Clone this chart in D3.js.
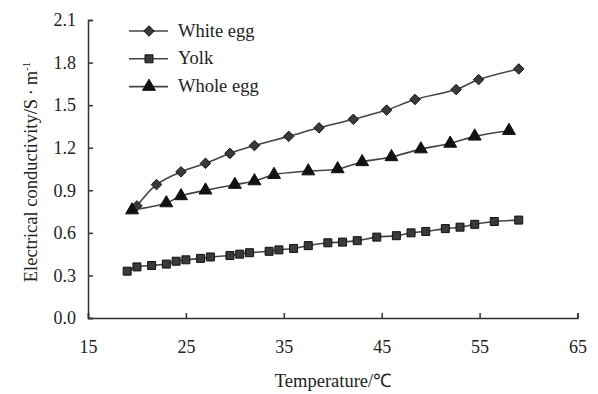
<!DOCTYPE html>
<html>
<head>
<meta charset="utf-8">
<script src="https://cdn.jsdelivr.net/npm/d3@7"></script>
<style>
  body { margin: 0; background: #fff; }
</style>
</head>
<body>
<svg id="chart" width="598" height="394"></svg>
<script>
// series data
const yolkT = [19, 20, 21.5, 23, 24, 25, 26.5, 27.5, 29.5, 30.5, 31.5, 33.5, 34.5, 36, 37.5, 39.5, 41, 42.5, 44.5, 46.5, 48, 49.5, 51.5, 53, 54.5, 56.5, 59];
const yolkV = [0.33, 0.36, 0.37, 0.38, 0.40, 0.41, 0.42, 0.43, 0.44, 0.45, 0.46, 0.47, 0.48, 0.49, 0.51, 0.53, 0.535, 0.545, 0.57, 0.58, 0.60, 0.61, 0.63, 0.64, 0.66, 0.68, 0.69];

const whiteT = [20, 22, 24.5, 27, 29.5, 32, 35.5, 38.6, 42.1, 45.5, 48.4, 52.6, 54.9, 59];
const whiteV = [0.79, 0.94, 1.03, 1.09, 1.16, 1.215, 1.28, 1.34, 1.40, 1.465, 1.54, 1.61, 1.68, 1.755];

const wholeT = [19.5, 23, 24.5, 27, 30, 32, 34, 37.5, 40.5, 43, 46, 49, 52, 54.5, 58];
const wholeV = [0.76, 0.81, 0.86, 0.90, 0.94, 0.965, 1.01, 1.035, 1.05, 1.10, 1.135, 1.19, 1.23, 1.28, 1.32];

const xTicks = [15, 25, 35, 45, 55, 65];
const yTicks = [0, 0.3, 0.6, 0.9, 1.2, 1.5, 1.8, 2.1];

const seriesNames = ["White egg", "Yolk", "Whole egg"];

const FONT = "Liberation Serif";

const svg = d3.select("#chart");
const margin = { top: 20, right: 20, bottom: 76, left: 88 };

const x = d3.scaleLinear().domain([15, 65]).range([margin.left, 577.5]);
const y = d3.scaleLinear().domain([0, 2.1]).range([318, margin.top]);

// axes
const xAxis = d3.axisBottom(x).tickValues(xTicks).tickSize(-5).tickPadding(22).tickFormat(d3.format("d"));
const yAxis = d3.axisLeft(y).tickValues(yTicks).tickSize(-5).tickPadding(12).tickFormat(d3.format(".1f"));

const gx = svg.append("g").attr("transform", `translate(0,${y(0)})`).call(xAxis);
const gy = svg.append("g").attr("transform", `translate(${x(15)},0)`).call(yAxis);

[gx, gy].forEach(g => {
  g.attr("font-family", FONT).attr("font-size", 18);
  g.selectAll(".domain").attr("stroke", "#333").attr("stroke-width", 1.5);
  g.selectAll(".tick line").attr("stroke", "#333").attr("stroke-width", 1.5);
  g.selectAll("text").attr("fill", "#222");
});

// axis titles
svg.append("text")
  .attr("x", 333).attr("y", 387)
  .attr("text-anchor", "middle")
  .attr("font-family", FONT)
  .attr("font-size", 18.5)
  .attr("fill", "#222")
  .text("Temperature/℃");

const yt = svg.append("text")
  .attr("transform", `translate(37,172) rotate(-90)`)
  .attr("text-anchor", "middle")
  .attr("font-family", FONT)
  .attr("font-size", 18.5)
  .attr("fill", "#222");
yt.append("tspan").text("Electrical conductivity/S\u2009·\u2009m");
yt.append("tspan").attr("dy", -7).attr("font-size", 11).text("-1");

const line = d3.line()
  .x(d => x(d[0]))
  .y(d => y(d[1]))
  .curve(d3.curveCatmullRom.alpha(0.5));

const series = [
  { name: seriesNames[0], data: d3.zip(whiteT, whiteV), sym: d3.symbolDiamond2, size: 70, fill: "#3a3a3a" },
  { name: seriesNames[1], data: d3.zip(yolkT, yolkV), sym: d3.symbolSquare, size: 64, fill: "#3a3a3a" },
  { name: seriesNames[2], data: d3.zip(wholeT, wholeV), sym: d3.symbolTriangle, size: 72, fill: "#111" }
];

series.forEach(s => {
  svg.append("path")
    .datum(s.data)
    .attr("d", line)
    .attr("fill", "none")
    .attr("stroke", "#444")
    .attr("stroke-width", 1.6);
  svg.append("g")
    .selectAll("path")
    .data(s.data)
    .join("path")
    .attr("transform", d => `translate(${x(d[0])},${y(d[1])})`)
    .attr("d", d3.symbol().type(s.sym).size(s.size))
    .attr("fill", s.fill)
    .attr("stroke", "#111")
    .attr("stroke-width", 1);
});

// legend
const legend = svg.append("g").attr("transform", "translate(129,31)");
series.forEach((s, i) => {
  const g = legend.append("g").attr("transform", `translate(0,${i * 27.8})`);
  g.append("line").attr("x1", 0).attr("x2", 39).attr("y1", 0).attr("y2", 0)
    .attr("stroke", "#444").attr("stroke-width", 1.6);
  g.append("path")
    .attr("transform", "translate(20,0)")
    .attr("d", d3.symbol().type(s.sym).size(s.size))
    .attr("fill", s.fill).attr("stroke", "#111");
  g.append("text").attr("x", 49).attr("y", 5.5)
    .attr("font-family", FONT)
    .attr("font-size", 18.5)
    .attr("fill", "#222")
    .text(s.name);
});
</script>
</body>
</html>
